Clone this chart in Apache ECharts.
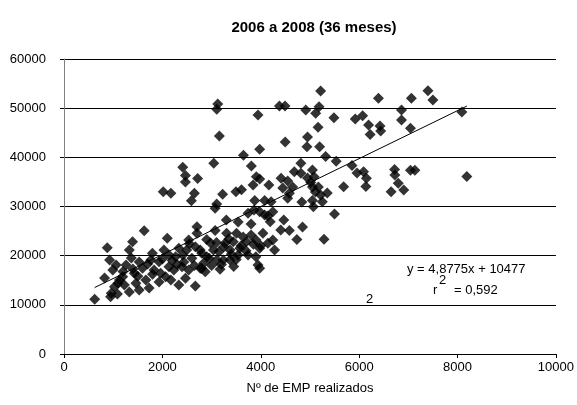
<!DOCTYPE html>
<html><head><meta charset="utf-8">
<script src="https://cdn.jsdelivr.net/npm/echarts@6.0.0/dist/echarts.min.js"></script>
<style>html,body{margin:0;padding:0;background:#fff}#c{width:577px;height:405px}</style>
</head><body><div id="c"></div><script>
const titleText = '2006 a 2008 (36 meses)';
const xAxisName = 'Nº de EMP realizados';
const eqText = 'y = 4,8775x + 10477';
const slope = 4.8775, intercept = 10477;
const empX = [3125,3105,3159,3944,4380,4493,4915,4497,3978,3648,3044,2414,2469,2469,2716,2018,2173,2650,2589,3225,3104,3072,3495,3608,3809,3909,3978,3843,4165,3877,4078,4412,4547,4682,4815,4581,4547,4835,4447,4648,4950,4939,5217,5117,5185,5487,5165,5197,5318,5533,5921,6070,6191,6223,6424,6438,6392,6861,6861,7062,7042,7398,7499,8088,8189,5684,5855,5956,6090,6147,6137,6720,6726,7042,7133,6795,6650,6907,5499,5286,4815,5050,5084,5016,5050,5171,5110,5217,5352,5050,5251,5070,4950,3742,3978,4078,4245,4191,4581,4849,4734,4044,3072,2702,2702,4245,4280,3978,4145,3944,3978,3173,2871,2670,2334,3306,3507,3642,3274,3441,3708,3575,3374,3803,2837,2903,2770,3038,3104,3239,3374,2770,3541,3742,2978,2670,2535,4145,3863,4211,624,946,879,1630,1394,1328,2099,926,992,1060,1127,1026,960,1262,1193,1429,1463,1596,1664,1765,1797,1932,1966,2066,2133,2268,2334,2400,2469,1529,1730,1328,1831,1932,2173,2435,2535,2233,2032,2133,825,1227,1086,1368,1529,2414,2495,3541,3300,3803,4406,4467,3903,
  2200,2300,2600,2650,2800,2950,3000,3150,3250,3400,3500,3600,3700,3850,3900,1800,1500,1700,1400,2000,2550,2900,3350,3100,4000,1200,1100,2800,3200,3450];
const valY = [50850,49770,44340,48610,50440,50440,49630,43120,41640,40420,38790,37970,36310,34980,35700,33010,32690,32690,31180,32480,30510,29640,33010,33420,38240,36060,35600,34370,34370,31220,31220,35740,35190,37080,38790,32690,31670,30920,33760,33970,44140,42170,53490,48960,50300,48060,46110,42170,40170,39190,47800,48470,46580,44650,46380,45360,52010,49630,47600,52010,45910,53560,51660,49220,36100,34030,38340,36820,37080,35740,34070,37530,36410,37360,37360,34720,33010,33360,28480,23330,36750,37430,36060,34880,33970,33970,32950,32340,32750,31220,30980,29960,35800,28620,28940,28270,28940,26910,25120,25830,23290,24550,25120,25890,24550,23190,21150,21500,22520,18100,17430,17230,16740,13830,14030,24550,24550,23800,22520,22840,22840,21500,21150,24200,18450,19790,21150,21150,19120,19120,19120,17430,20140,20140,22580,21830,23190,28070,29290,30980,11130,11650,21620,25080,22840,21150,23530,19120,17090,18100,15050,13690,12350,18100,15720,16410,14380,17430,15050,19120,20480,18770,16410,15720,17760,19790,21500,17760,15400,13020,13420,12610,17090,14650,15050,18710,17090,17090,21150,20140,15460,14030,12200,19530,18710,20140,21150,26850,27260,26440,25220,27260,23190,
  19000,18200,19500,18000,20500,19500,18000,20800,21800,20300,19200,22000,21000,22300,19800,16200,15800,18300,17300,19300,22400,23300,23400,22700,22000,16800,14400,17400,18200,17800];

const points = empX.map((x, i) => [x, valY[i]]);
const xMin = Math.min(...empX), xMax = Math.max(...empX);
const trend = [[xMin, slope * xMin + intercept], [xMax, slope * xMax + intercept]];
const FONT = '"Liberation Sans Narrow", "Arial Narrow", Arial, sans-serif';
const plain = v => String(v);

const chart = echarts.init(document.getElementById('c'), null, {renderer: 'canvas'});
chart.setOption({
  animation: false,
  backgroundColor: '#fff',
  title: {text: titleText, left: 309, textAlign: 'center', top: 15,
    textStyle: {fontFamily: FONT, fontSize: 15, fontWeight: 'bold', color: '#000'}},
  grid: {left: 64, right: 16, top: 59, bottom: 51, containLabel: false},
  xAxis: {type: 'value', min: 0, max: 10000, interval: 2000,
    name: xAxisName, nameLocation: 'middle', nameGap: 28,
    nameTextStyle: {fontFamily: FONT, fontSize: 13, color: '#000'},
    axisLine: {lineStyle: {color: '#000', width: 1}},
    axisTick: {show: true, length: 4, lineStyle: {color: '#000'}},
    axisLabel: {fontFamily: FONT, fontSize: 13, color: '#000', margin: 7, formatter: plain},
    splitLine: {show: false}},
  yAxis: {type: 'value', min: 0, max: 60000, interval: 10000,
    axisLine: {show: true, lineStyle: {color: '#808080', width: 1}},
    axisTick: {show: true, length: 4, lineStyle: {color: '#000'}},
    axisLabel: {fontFamily: FONT, fontSize: 13, color: '#000', margin: 18, formatter: plain},
    splitLine: {show: true, lineStyle: {color: '#000', width: 1}}},
  series: [
    {type: 'scatter', data: points, symbol: 'diamond', symbolSize: [11, 11],
      itemStyle: {color: '#000'}, z: 3},
    {type: 'line', data: trend, symbol: 'none', lineStyle: {color: '#000', width: 1}, z: 4}
  ],
  graphic: [
    {type: 'text', left: 407, top: 263, style: {text: eqText, font: '13px ' + FONT, fill: '#000'}},
    {type: 'text', left: 433, top: 284, style: {text: 'r', font: '13px ' + FONT, fill: '#000'}},
    {type: 'text', left: 439, top: 274, style: {text: '2', font: '13px ' + FONT, fill: '#000'}},
    {type: 'text', left: 454, top: 284, style: {text: '= 0,592', font: '13px ' + FONT, fill: '#000'}},
    {type: 'text', left: 366, top: 293, style: {text: '2', font: '13px ' + FONT, fill: '#000'}}
  ]
});
</script></body></html>
